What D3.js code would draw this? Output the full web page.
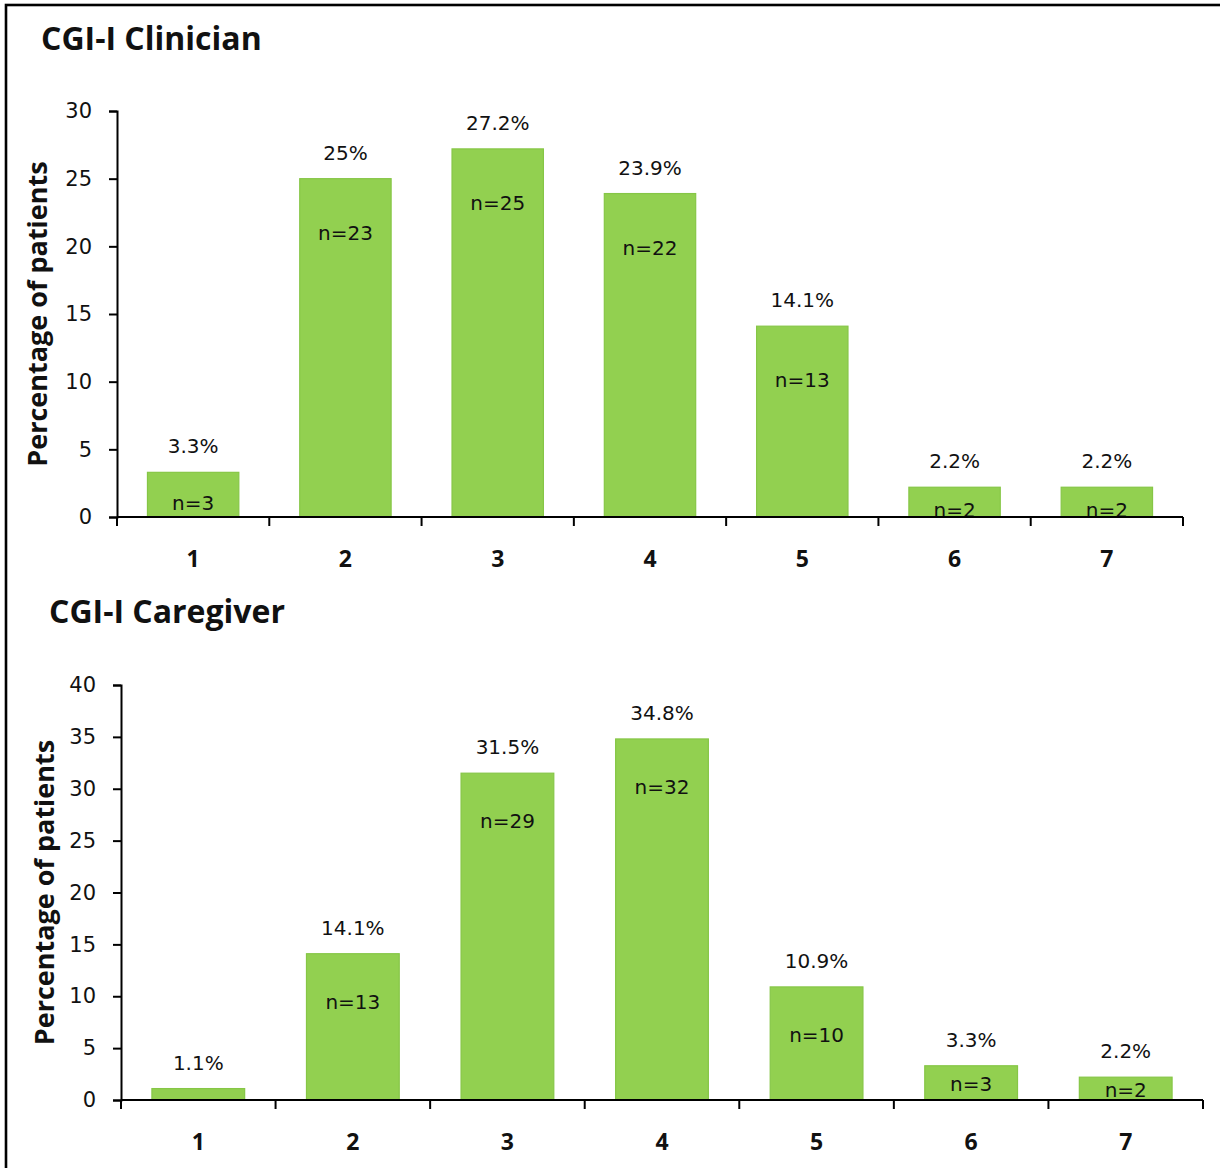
<!DOCTYPE html>
<html>
<head>
<meta charset="utf-8">
<script src="https://cdn.jsdelivr.net/npm/d3@7"></script>
<style>
  html, body { margin: 0; padding: 0; background: #fff; }
  svg { display: block; }
  text { font-family: "Open Sans", "Noto Sans", sans-serif; fill: #111; }
  text.num { font-family: "DejaVu Sans", sans-serif; }
</style>
</head>
<body>
<svg id="chart" width="1220" height="1168"></svg>
<script>
// ---- data ----
const categories = ["1", "2", "3", "4", "5", "6", "7"];

const clinicianTitle = "CGI-I Clinician";
const clinicianPct = [3.3, 25, 27.2, 23.9, 14.1, 2.2, 2.2];
const clinicianN = [3, 23, 25, 22, 13, 2, 2];
const clinicianTicks = [0, 5, 10, 15, 20, 25, 30];

const caregiverTitle = "CGI-I Caregiver";
const caregiverPct = [1.1, 14.1, 31.5, 34.8, 10.9, 3.3, 2.2];
const caregiverN = [null, 13, 29, 32, 10, 3, 2];
const caregiverTicks = [0, 5, 10, 15, 20, 25, 30, 35, 40];

const yAxisLabel = "Percentage of patients";

// ---- drawing ----
const svg = d3.select("#chart");

// frame (top and left edges visible)
svg.append("rect")
  .attr("x", 6).attr("y", 5)
  .attr("width", 1240).attr("height", 1200)
  .attr("fill", "none").attr("stroke", "#000").attr("stroke-width", 2.6);

function drawChart(opt) {
  const g = svg.append("g");
  const x = d3.scaleBand().domain(categories).range([opt.x0, opt.x1]).paddingInner(0.4).paddingOuter(0.2);
  const y = d3.scaleLinear().domain([0, d3.max(opt.ticks)]).range([opt.yBottom, opt.yTop]);

  // title
  g.append("text")
    .attr("x", opt.titleX).attr("y", opt.titleY)
    .attr("font-size", 32).attr("font-weight", 700)
    .text(opt.title);

  // y axis label
  g.append("text")
    .attr("transform", `translate(${opt.labelX},${(opt.yTop + opt.yBottom) / 2}) rotate(-90)`)
    .attr("text-anchor", "middle")
    .attr("font-size", 27).attr("font-weight", 700)
    .text(yAxisLabel);

  // clip for bar labels
  const clipId = "clip-" + opt.id;
  g.append("clipPath").attr("id", clipId)
    .append("rect").attr("x", opt.x0).attr("y", 0)
    .attr("width", opt.x1 - opt.x0).attr("height", opt.yBottom);

  // bars
  g.selectAll("rect.bar").data(opt.pct).join("rect")
    .attr("class", "bar")
    .attr("x", (d, i) => x(categories[i]))
    .attr("y", d => y(d))
    .attr("width", x.bandwidth())
    .attr("height", d => y(0) - y(d))
    .attr("fill", "#92d050")
    .attr("stroke", "#86c646").attr("stroke-width", 1.2);

  // percentage labels
  g.selectAll("text.pct").data(opt.pct).join("text")
    .attr("class", "pct num")
    .attr("x", (d, i) => x(categories[i]) + x.bandwidth() / 2)
    .attr("y", d => y(d) - 26)
    .attr("dy", "0.35em")
    .attr("text-anchor", "middle")
    .attr("font-size", 20)
    .text(d => d + "%");

  // n labels
  g.append("g").attr("clip-path", `url(#${clipId})`)
    .selectAll("text.n").data(opt.n).join("text")
    .attr("class", "n num")
    .attr("x", (d, i) => x(categories[i]) + x.bandwidth() / 2)
    .attr("y", (d, i) => {
      const top = y(opt.pct[i]);
      const mid = (top + y(0)) / 2;
      return Math.min(top + opt.nOffset, mid + opt.nMid);
    })
    .attr("dy", "0.35em")
    .attr("text-anchor", "middle")
    .attr("font-size", 20)
    .text(d => d == null ? "" : "n=" + d);

  // y axis
  const yAxis = g.append("g")
    .attr("transform", `translate(${opt.x0},0)`)
    .call(d3.axisLeft(y).tickValues(opt.ticks).tickSize(8).tickPadding(17).tickSizeOuter(8));
  yAxis.select(".domain").attr("stroke", "#000").attr("stroke-width", 2);
  yAxis.selectAll(".tick line").attr("stroke", "#000").attr("stroke-width", 2);
  yAxis.selectAll(".tick text").attr("class", "num").attr("font-size", 21)
    .attr("font-family", "'DejaVu Sans', sans-serif").attr("fill", "#111");

  // x axis with ticks at band boundaries
  const xAxisG = g.append("g").attr("transform", `translate(0,${opt.yBottom})`);
  xAxisG.append("line")
    .attr("x1", opt.x0).attr("x2", opt.x1)
    .attr("stroke", "#000").attr("stroke-width", 2);
  const boundaries = d3.range(categories.length + 1).map(i => opt.x0 + i * (opt.x1 - opt.x0) / categories.length);
  xAxisG.selectAll("line.xt").data(boundaries).join("line")
    .attr("class", "xt")
    .attr("x1", d => d).attr("x2", d => d)
    .attr("y1", 0).attr("y2", 9)
    .attr("stroke", "#000").attr("stroke-width", 2);
  xAxisG.selectAll("text.xl").data(categories).join("text")
    .attr("class", "xl")
    .attr("x", d => x(d) + x.bandwidth() / 2)
    .attr("y", 50)
    .attr("text-anchor", "middle")
    .attr("font-size", 23).attr("font-weight", 700)
    .text(d => d);
}

drawChart({
  id: "top", title: clinicianTitle, pct: clinicianPct, n: clinicianN, ticks: clinicianTicks,
  x0: 117, x1: 1183, yTop: 111, yBottom: 517, titleX: 41, titleY: 50, labelX: 47,
  nOffset: 54, nMid: 8
});

drawChart({
  id: "bottom", title: caregiverTitle, pct: caregiverPct, n: caregiverN, ticks: caregiverTicks,
  x0: 121, x1: 1203, yTop: 685, yBottom: 1100, titleX: 49, titleY: 623, labelX: 54,
  nOffset: 48, nMid: 1
});
</script>
</body>
</html>
